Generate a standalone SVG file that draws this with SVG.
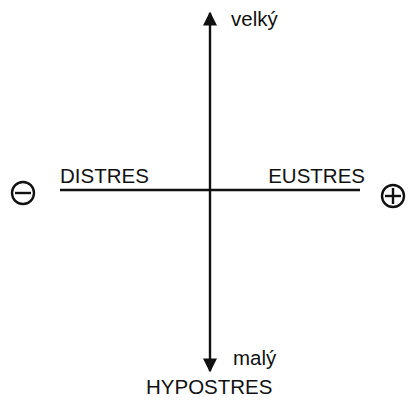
<svg xmlns="http://www.w3.org/2000/svg" width="410" height="408" viewBox="0 0 410 408">
<style>
.t{font-family:"Liberation Sans",Arial,sans-serif;font-size:20.5px;fill:#111}
.ln{stroke:#111;stroke-width:2.4;fill:none}
</style>
<defs>
<marker id="ah" viewBox="0 0 10 10" refX="9" refY="5" markerWidth="16" markerHeight="14" markerUnits="userSpaceOnUse" orient="auto">
<path d="M0,0 L10,5 L0,10 z" fill="#111"/>
</marker>
</defs>
<rect width="410" height="408" fill="#fff"/>
<g id="connectors">
<line class="ln" x1="210" y1="190" x2="210" y2="13" marker-end="url(#ah)"/>
<line class="ln" x1="210" y1="190" x2="210" y2="371" marker-end="url(#ah)"/>
<line class="ln" x1="60" y1="190" x2="360" y2="190"/>
</g>
<g id="velky"><text class="t" x="231" y="26">velký</text></g>
<g id="maly"><text class="t" x="233" y="365">malý</text></g>
<g id="hypostres"><text class="t" x="146" y="394">HYPOSTRES</text></g>
<g id="distres"><text class="t" x="60" y="183">DISTRES</text></g>
<g id="eustres"><text class="t" x="365" y="183" text-anchor="end">EUSTRES</text></g>
<g id="minus">
<circle class="ln" cx="23" cy="193" r="11"/>
<line class="ln" x1="15" y1="193" x2="31" y2="193"/>
</g>
<g id="plus">
<circle class="ln" cx="393" cy="196" r="11"/>
<line class="ln" x1="385" y1="196" x2="401" y2="196"/>
<line class="ln" x1="393" y1="188" x2="393" y2="204"/>
</g>
</svg>
